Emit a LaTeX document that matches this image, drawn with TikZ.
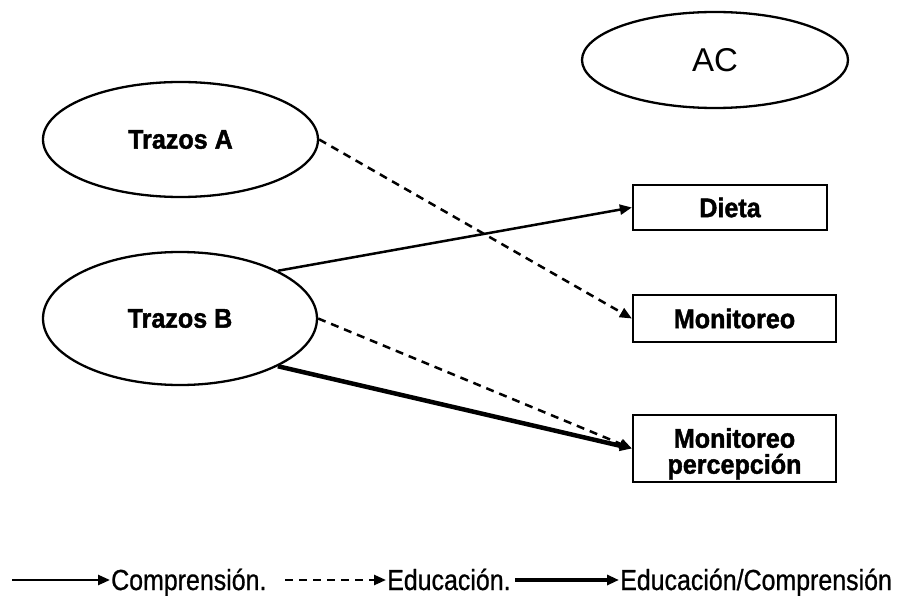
\documentclass[tikz,border=0pt]{standalone}
\usepackage{fontspec}
\setmainfont{Liberation Sans}
\newfontfamily\nodefont[FakeStretch=0.93,FakeBold=1.5]{Liberation Sans}
\newfontfamily\legendfont[FakeStretch=0.86,FakeBold=0.8]{Liberation Sans}
\usetikzlibrary{shapes.geometric,arrows.meta}

\begin{document}
\begin{tikzpicture}[x=1pt,y=-1pt,
  oval/.style={ellipse,draw,line width=2.3pt,inner sep=0pt},
  boldtext/.style={font=\nodefont\bfseries\fontsize{27}{26}\selectfont},
  boxnode/.style={rectangle,draw,line width=2.3pt,inner sep=0pt,boldtext,align=center},
  legend/.style={font=\legendfont\fontsize{29}{30}\selectfont,inner sep=1pt},
  tip/.style={-{Triangle[length=12pt,width=10pt]}},
  comp/.style={tip,line width=2.5pt},
  edu/.style={tip,line width=2.5pt,dash pattern=on 8pt off 6pt},
  both/.style={tip,line width=4.5pt},
]
\useasboundingbox (0,0) rectangle (902,596);

% ovals
\node[oval,boldtext,minimum width=275pt,minimum height=115pt] (tA) at (180.5,139.5) {Trazos A};
\node[oval,boldtext,minimum width=274pt,minimum height=133pt] (tB) at (180,318.5) {Trazos B};
\node[oval,font=\fontsize{33}{36}\selectfont,minimum width=266pt,minimum height=96pt] (ac) at (715,60) {AC};

% boxes
\node[boxnode,minimum width=194pt,minimum height=45pt] (dieta) at (730,207.5) {Dieta};
\node[boxnode,minimum width=203pt,minimum height=47pt] (mon) at (734.5,318.5) {Monitoreo};
\node[boxnode,minimum width=203pt,minimum height=67pt] (perc) at (734.5,448.5) {\rule{0pt}{30pt}Monitoreo\\percepción};

% connectors
\draw[edu] (tA.east) -- (mon.west);
\draw[comp] (tB.26) -- (dieta.west);
\draw[edu] (tB.east) -- (perc.west);
\draw[both] (tB.-26) -- (perc.west);

% legend
\coordinate (l1) at (12,580);
\node[legend,anchor=base west] (c1) at (110,590) {Comprensión.};
\draw[comp] (l1) -- (l1 -| c1.west);
\coordinate (l2) at (285,580);
\node[legend,anchor=base west] (c2) at (386,590) {Educación.};
\draw[edu] (l2) -- (l2 -| c2.west);
\coordinate (l3) at (515,580);
\node[legend,anchor=base west] (c3) at (619,590) {Educación/Comprensión};
\draw[both] (l3) -- (l3 -| c3.west);
\end{tikzpicture}
\end{document}
